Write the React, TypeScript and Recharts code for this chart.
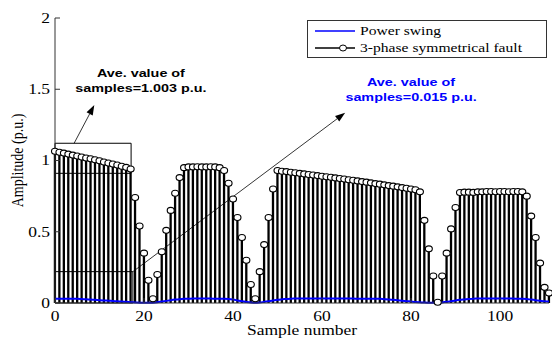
import React from "react";
import {
  ComposedChart,
  Bar,
  Line,
  XAxis,
  YAxis,
  ReferenceArea,
  ReferenceLine,
  ReferenceDot,
  Legend,
} from "recharts";

// stem heights, sample 0..111
const faultAmp = [
  1.065, 1.058, 1.052, 1.045, 1.038, 1.032, 1.025, 1.018, 1.012, 1.005,
  0.998, 0.99, 0.982, 0.975, 0.968, 0.96, 0.952, 0.94, 0.74, 0.54,
  0.35, 0.16, 0.03, 0.2, 0.36, 0.51, 0.65, 0.77, 0.88, 0.95,
  0.955, 0.955, 0.956, 0.955, 0.955, 0.956, 0.955, 0.95, 0.93, 0.84,
  0.73, 0.6, 0.46, 0.3, 0.13, 0.03, 0.22, 0.41, 0.6, 0.8,
  0.93, 0.925, 0.922, 0.918, 0.914, 0.91, 0.906, 0.902, 0.898, 0.894,
  0.89, 0.886, 0.882, 0.878, 0.874, 0.87, 0.865, 0.861, 0.857, 0.852,
  0.848, 0.843, 0.838, 0.834, 0.829, 0.824, 0.82, 0.815, 0.81, 0.805,
  0.8, 0.795, 0.78, 0.58, 0.38, 0.19, 0.005, 0.19, 0.35, 0.52,
  0.67, 0.775, 0.778, 0.778, 0.776, 0.78, 0.78, 0.782, 0.782, 0.781,
  0.782, 0.782, 0.781, 0.782, 0.782, 0.78, 0.75, 0.61, 0.46, 0.28,
  0.11, 0.07,
];

// blue trace, sample 0..111
const swingAmp = [
  0.03, 0.03, 0.03, 0.03, 0.03, 0.03, 0.028, 0.026, 0.024, 0.022,
  0.02, 0.018, 0.016, 0.014, 0.012, 0.01, 0.008, 0.006, 0.004, 0.002,
  0.001, 0.001, 0.002, 0.005, 0.01, 0.015, 0.02, 0.024, 0.027, 0.029,
  0.03, 0.031, 0.031, 0.031, 0.031, 0.031, 0.03, 0.03, 0.03, 0.028,
  0.024, 0.018, 0.012, 0.007, 0.003, 0.001, 0.003, 0.008, 0.013, 0.018,
  0.022, 0.026, 0.028, 0.03, 0.031, 0.032, 0.032, 0.032, 0.032, 0.032,
  0.032, 0.032, 0.032, 0.031, 0.031, 0.031, 0.031, 0.031, 0.03, 0.03,
  0.03, 0.03, 0.03, 0.029, 0.027, 0.025, 0.022, 0.019, 0.016, 0.013,
  0.01, 0.007, 0.005, 0.003, 0.002, 0.001, 0.001, 0.004, 0.008, 0.013,
  0.018, 0.022, 0.025, 0.028, 0.03, 0.031, 0.032, 0.032, 0.032, 0.032,
  0.032, 0.032, 0.032, 0.031, 0.03, 0.03, 0.028, 0.024, 0.02, 0.016,
  0.012, 0.01,
];

const xTicks = [0, 20, 40, 60, 80, 100];
const yTicks = [0, 0.5, 1, 1.5, 2];
const seriesNames = ["Power swing", "3-phase symmetrical fault"];
const noteFault = ["Ave. value of", "samples=1.003 p.u."];
const noteSwing = ["Ave. value of", "samples=0.015 p.u."];

const data = faultAmp.map((v, i) => ({ n: i, fault: v, swing: swingAmp[i] }));

const SERIF = "'Liberation Serif', 'Times New Roman', serif";
const SANS = "'Liberation Sans', Arial, sans-serif";
const SX = 1.25; // the picture is stretched sideways
const AX = "#333";

const SText = ({ x, y, children, anchor = "start", size = 14, family = SERIF, weight = "normal", fill = "#000", rotate = 0 }: any) => (
  <text
    transform={`translate(${x},${y}) scale(${SX},1)${rotate ? ` rotate(${rotate})` : ""}`}
    textAnchor={anchor}
    dominantBaseline="central"
    fontSize={size}
    fontFamily={family}
    fontWeight={weight}
    fill={fill}
  >
    {children}
  </text>
);

const BottomTick = ({ x, y, payload }: any) => (
  <g>
    <line x1={x} y1={y} x2={x} y2={y - 5} stroke={AX} />
    <SText x={x} y={y + 13} anchor="middle">{payload.value}</SText>
  </g>
);
const TopTick = ({ x, y }: any) => <line x1={x} y1={y} x2={x} y2={y + 5} stroke={AX} />;
const LeftTick = ({ x, y, payload }: any) => (
  <g>
    <line x1={x} y1={y} x2={x + 5} y2={y} stroke={AX} />
    <SText x={x - 5} y={y} anchor="end">{payload.value}</SText>
  </g>
);
const RightTick = ({ x, y }: any) => <line x1={x} y1={y} x2={x - 5} y2={y} stroke={AX} />;

const StemDot = (p: any) => (
  <ellipse key={`d${p.index}`} cx={p.cx} cy={p.cy} rx={3.5} ry={3} fill="#fff" stroke="#000" strokeWidth={1.1} />
);

const arrowShape = (p: any) => {
  const { x1, y1, x2, y2 } = p;
  const a = Math.atan2(y2 - y1, x2 - x1);
  const L = 10;
  const W = 3.5;
  const bx = x2 - L * Math.cos(a);
  const by = y2 - L * Math.sin(a);
  const pts = `${x2},${y2} ${bx + W * Math.sin(a)},${by - W * Math.cos(a)} ${bx - W * Math.sin(a)},${by + W * Math.cos(a)}`;
  return (
    <g>
      <line x1={x1} y1={y1} x2={bx} y2={by} stroke="#000" strokeWidth={0.8} />
      <polygon points={pts} fill="#000" />
    </g>
  );
};

const noteShape = (lines: string[], fill: string) => (p: any) => (
  <g>
    <SText x={p.cx} y={p.cy - 7.5} anchor="middle" size={11.5} family={SANS} weight="bold" fill={fill}>{lines[0]}</SText>
    <SText x={p.cx} y={p.cy + 7.5} anchor="middle" size={11.5} family={SANS} weight="bold" fill={fill}>{lines[1]}</SText>
  </g>
);

const LegendBox = () => (
  <svg width={240} height={38} style={{ display: "block" }}>
    <rect x={0.5} y={0.5} width={239} height={37} fill="#fff" stroke={AX} />
    <line x1={8} y1={11} x2={48} y2={11} stroke="#0000ff" strokeWidth={1.5} />
    <SText x={53} y={11} size={12.5}>{seriesNames[0]}</SText>
    <line x1={8} y1={28} x2={48} y2={28} stroke="#000" strokeWidth={1.5} />
    <ellipse cx={36} cy={28} rx={3.5} ry={3} fill="#fff" stroke="#000" />
    <SText x={53} y={28} size={12.5}>{seriesNames[1]}</SText>
  </svg>
);

export default function App() {
  return (
    <div style={{ position: "absolute", left: 0, top: 0, background: "#fff" }}>
      <ComposedChart width={552} height={338} data={data} margin={{ top: 18, right: 3, bottom: 0, left: 0 }}>
        <XAxis
          dataKey="n"
          type="number"
          domain={[0, 111]}
          ticks={xTicks}
          interval={0}
          height={35}
          tickSize={0}
          tickMargin={0}
          tick={<BottomTick />}
          stroke={AX}
          label={(p: any) => (
            <SText x={p.viewBox.x + p.viewBox.width / 2} y={p.viewBox.y + 27} anchor="middle">Sample number</SText>
          )}
        />
        <XAxis
          xAxisId="top"
          orientation="top"
          dataKey="n"
          type="number"
          domain={[0, 111]}
          ticks={xTicks}
          interval={0}
          height={0}
          tickSize={0}
          tickMargin={0}
          tick={<TopTick />}
          stroke={AX}
        />
        <YAxis
          domain={[0, 2]}
          ticks={yTicks}
          interval={0}
          width={55}
          tickSize={0}
          tickMargin={0}
          tick={<LeftTick />}
          stroke={AX}
          label={(p: any) => (
            <SText x={17} y={p.viewBox.y + p.viewBox.height / 2} anchor="middle" rotate={-90}>Amplitude (p.u.)</SText>
          )}
        />
        <YAxis
          yAxisId="right"
          orientation="right"
          domain={[0, 2]}
          ticks={yTicks}
          interval={0}
          width={0}
          tickSize={0}
          tickMargin={0}
          tick={<RightTick />}
          stroke={AX}
        />
        <Legend
          layout="horizontal"
          verticalAlign="middle"
          align="center"
          wrapperStyle={{ left: 307, top: 20, width: 240, height: 38 }}
          content={<LegendBox />}
        />
        <Bar dataKey="fault" barSize={2.3} fill="#000" isAnimationActive={false} />
        <Line dataKey="swing" stroke="#0000ff" strokeWidth={2} dot={false} type="monotone" isAnimationActive={false} />
        <Line dataKey="fault" stroke="none" dot={StemDot} activeDot={false} isAnimationActive={false} />
        <ReferenceArea x1={0} x2={17.1} y1={0.91} y2={1.121} fill="none" stroke="#000" strokeWidth={1} />
        <ReferenceArea x1={0} x2={17.5} y1={0} y2={0.22} fill="none" stroke="#000" strokeWidth={1} />
        <ReferenceLine segment={[{ x: 4.3, y: 1.121 }, { x: 8.83, y: 1.389 }]} shape={arrowShape} />
        <ReferenceLine segment={[{ x: 17.5, y: 0.22 }, { x: 65.2, y: 1.335 }]} shape={arrowShape} />
        <ReferenceDot x={19.3} y={1.561} r={0} shape={noteShape(noteFault, "#000")} />
        <ReferenceDot x={80} y={1.495} r={0} shape={noteShape(noteSwing, "#0000ff")} />
      </ComposedChart>
    </div>
  );
}
